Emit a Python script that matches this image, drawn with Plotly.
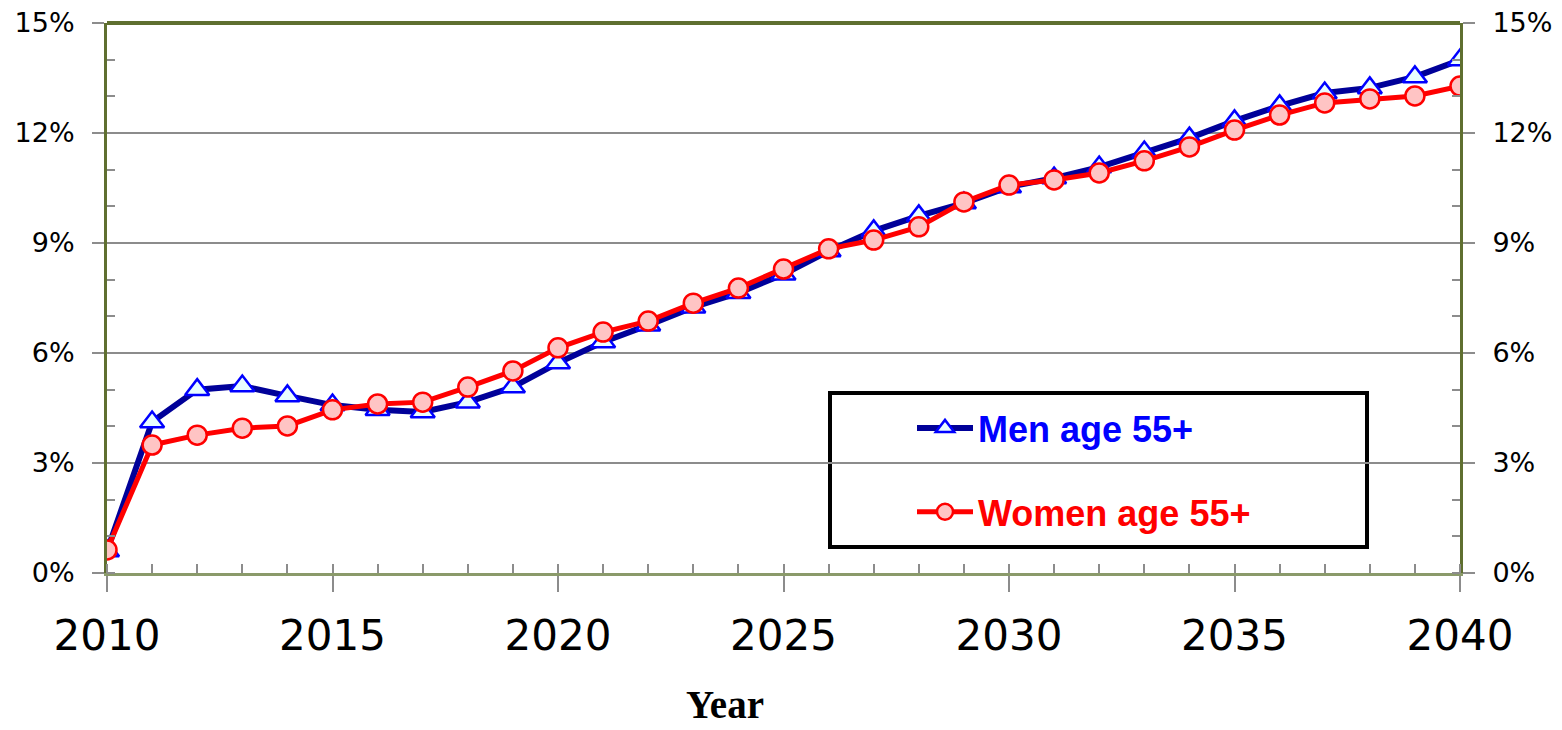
import plotly.graph_objects as go

# values (percent)
years = list(range(2010, 2041))
men_55 = [0.6, 4.12, 5.0, 5.1, 4.83, 4.58, 4.45, 4.39, 4.66, 5.07, 5.73, 6.3, 6.76, 7.25,
          7.64, 8.15, 8.78, 9.33, 9.74, 10.09, 10.53, 10.77, 11.07, 11.48, 11.86, 12.33,
          12.74, 13.09, 13.23, 13.53, 13.99]
women_55 = [0.63, 3.49, 3.76, 3.95, 4.01, 4.45, 4.61, 4.66, 5.07, 5.51, 6.14, 6.57, 6.87,
            7.36, 7.77, 8.29, 8.84, 9.08, 9.44, 10.12, 10.58, 10.72, 10.91, 11.24, 11.62,
            12.08, 12.49, 12.82, 12.93, 13.01, 13.28]
x_ticks = [2010, 2015, 2020, 2025, 2030, 2035, 2040]
y_ticks = [0, 3, 6, 9, 12, 15]
y_labels = ['0%', '3%', '6%', '9%', '12%', '15%']

fig = go.Figure()
fig.add_trace(go.Scatter(
    x=years, y=men_55, name='<span style="color:#0000ff"><b>Men age 55+</b></span>',
    mode='lines+markers', legendgroup='men',
    line=dict(color='#000099', width=6),
    marker=dict(symbol='triangle-up', size=21, color='#e8fdff',
                line=dict(color='#0000ff', width=2.5)),
))
fig.add_trace(go.Scatter(
    x=years, y=women_55, name='<span style="color:#ff0000"><b>Women age 55+</b></span>',
    mode='lines+markers', legendgroup='women',
    line=dict(color='#ff0000', width=5),
    marker=dict(symbol='circle', size=19, color='#ffc4c4',
                line=dict(color='#ff0000', width=2.5)),
))
# invisible trace to drive the right-hand axis
fig.add_trace(go.Scatter(x=years, y=men_55, yaxis='y2', showlegend=False,
                         mode='lines', line=dict(width=0), hoverinfo='skip'))

tick_grey = '#8c8c8c'
olive = '#5f6f30'

# page body adds an 8px margin, so the figure is 8px smaller than the window
fig.update_layout(
    width=1554, height=722,
    margin=dict(l=99, r=102, t=15, b=157),
    plot_bgcolor='white', paper_bgcolor='white',
    font=dict(family='DejaVu Sans, Verdana', color='#000000'),
    showlegend=True,
    legend=dict(x=(912 - 107) / 1353, y=(573 - 398) / 550, xanchor='left', yanchor='top',
                bgcolor='rgba(0,0,0,0)', borderwidth=0, traceorder='grouped',
                tracegroupgap=34, itemwidth=56,
                font=dict(family='Liberation Sans, Arial', size=36)),
    xaxis=dict(
        range=[2010, 2040], tickvals=x_ticks, automargin=False,
        ticks='outside', ticklen=16, tickwidth=2, tickcolor=tick_grey,
        tickfont=dict(size=42), ticklabelstandoff=8, ticklabeloverflow='allow',
        showgrid=False, zeroline=False,
        showline=True, linecolor='#8a9a6a', linewidth=3,
        minor=dict(dtick=1, ticks='inside', ticklen=9, tickwidth=2, tickcolor=tick_grey),
    ),
    yaxis=dict(
        range=[0, 15], tickvals=y_ticks, ticktext=y_labels, automargin=False,
        ticks='outside', ticklen=12, tickwidth=2, tickcolor=tick_grey,
        tickfont=dict(size=27), ticklabelstandoff=12, ticklabeloverflow='allow',
        showgrid=True, gridcolor=tick_grey, gridwidth=2, zeroline=False,
        showline=True, linecolor=olive, linewidth=3,
        minor=dict(dtick=1, ticks='inside', ticklen=8, tickwidth=2, tickcolor=tick_grey),
    ),
    yaxis2=dict(
        range=[0, 15], tickvals=y_ticks, ticktext=y_labels, overlaying='y', side='right',
        automargin=False,
        ticks='outside', ticklen=12, tickwidth=2, tickcolor=tick_grey,
        tickfont=dict(size=27), ticklabelstandoff=12, ticklabeloverflow='allow',
        showgrid=False, zeroline=False,
        showline=True, linecolor=olive, linewidth=3,
        minor=dict(dtick=1, ticks='inside', ticklen=8, tickwidth=2, tickcolor=tick_grey),
    ),
    annotations=[
        dict(text='<b>Year</b>', xref='paper', yref='paper',
             x=(725 - 107) / 1353, y=(573 - 704) / 550, xanchor='center', yanchor='middle',
             showarrow=False,
             font=dict(family='Liberation Serif, Times New Roman', size=39, color='#000000')),
    ],
    shapes=[
        # top border of the plot frame
        dict(type='line', xref='paper', yref='paper', x0=0, x1=1, y0=1, y1=1,
             line=dict(color=olive, width=4)),
        # legend box
        dict(type='rect', xref='paper', yref='paper',
             x0=(830 - 107) / 1353, x1=(1367 - 107) / 1353,
             y0=(573 - 547) / 550, y1=(573 - 393) / 550,
             line=dict(color='#000000', width=4), fillcolor='white', layer='below'),
    ],
)

fig.write_html('out.html')
